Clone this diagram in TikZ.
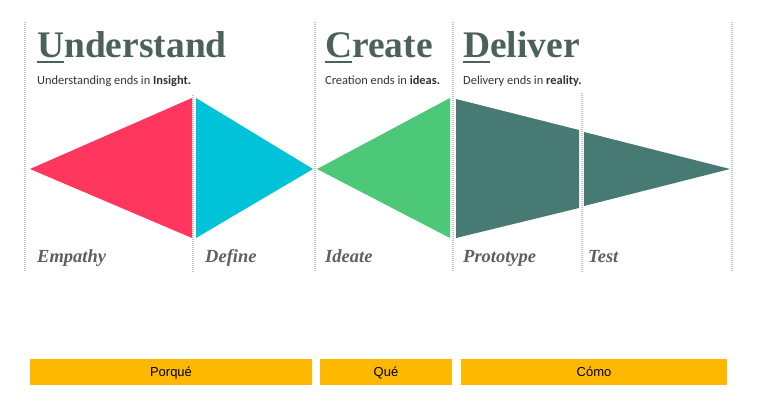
\documentclass[tikz,border=0pt]{standalone}
\usepackage{fontspec}
\setmainfont{Liberation Serif}
\newfontfamily\subfont{Carlito}
\newfontfamily\barfont{Liberation Sans}
\definecolor{headcol}{HTML}{4A625B}
\definecolor{labelcol}{HTML}{5A625E}
\definecolor{subcol}{HTML}{333333}
\definecolor{guidecol}{HTML}{C4C4C4}
\definecolor{empathycol}{HTML}{FF375E}
\definecolor{definecol}{HTML}{00C3D9}
\definecolor{ideatecol}{HTML}{4CC878}
\definecolor{delivercol}{HTML}{467A72}
\definecolor{barcol}{HTML}{FFB800}
% underline only the first letter of a heading
\newcommand\firstul[1]{\setbox0\hbox{#1}\rlap{\rule[-5.5pt]{\wd0}{1.8pt}}\box0}
\tikzset{
  heading/.style={anchor=base west, inner sep=0pt, text=headcol,
    font=\fontsize{37.5}{40}\selectfont\bfseries},
  subline/.style={anchor=base west, inner sep=0pt, text=subcol,
    font=\subfont\fontsize{12.4}{14}\selectfont},
  stagelabel/.style={anchor=base west, inner sep=0pt, text=labelcol,
    font=\fontsize{18.5}{20}\selectfont\bfseries\itshape},
  guide/.style={draw=guidecol, line width=1.2pt, dash pattern=on 1pt off 1pt},
  phasebar/.style={fill=barcol, draw=none, inner sep=0pt, text=black,
    minimum height=26pt, text height=9.5pt, text depth=0pt,
    font=\barfont\fontsize{13}{15}\selectfont},
}
\begin{document}
\begin{tikzpicture}[x=1pt,y=-1pt]
\useasboundingbox (0,0) rectangle (763,415);
\fill[white] (0,0) rectangle (763,415);

% dotted column guides
\draw[guide] (25,22) -- (25,272);
\draw[guide] (193,95) -- (193,272);
\draw[guide] (315,22) -- (315,272);
\draw[guide] (453,22) -- (453,272);
\draw[guide] (582,93) -- (582,272);
\draw[guide] (732,22) -- (732,272);

% stage shapes
\fill[empathycol] (30,169) -- (192,98) -- (192,238) -- cycle;
\fill[definecol] (196,98) -- (196,238) -- (313,169) -- cycle;
\fill[ideatecol] (317,169) -- (450,98) -- (450,238) -- cycle;
\fill[delivercol] (456,99) -- (579,130) -- (579,208) -- (456,238) -- cycle;
\fill[delivercol] (584,132) -- (584,206) -- (730,169) -- cycle;

% headings
\node[heading] (hu) at (37,57) {\firstul{U}nderstand};
\node[heading] (hc) at (325,57) {\firstul{C}reate};
\node[heading] (hd) at (463,57) {\firstul{D}eliver};

\node[subline] (su) at (37,84) {Understanding ends in \textbf{Insight.}};
\node[subline] (sc) at (325,84) {Creation ends in \textbf{ideas.}};
\node[subline] (sd) at (463,84) {Delivery ends in \textbf{reality.}};

% stage labels
\node[stagelabel] (le) at (37,262) {Empathy};
\node[stagelabel] (ld) at (205,262) {Define};
\node[stagelabel] (li) at (325,262) {Ideate};
\node[stagelabel] (lp) at (463,262) {Prototype};
\node[stagelabel] (lt) at (588,262) {Test};

% bottom bars
\node[phasebar, minimum width=282pt] (why) at (171,372) {Porqué};
\node[phasebar, minimum width=132pt] (what) at (386,372) {Qué};
\node[phasebar, minimum width=266pt] (how) at (594,372) {Cómo};
\end{tikzpicture}
\end{document}
